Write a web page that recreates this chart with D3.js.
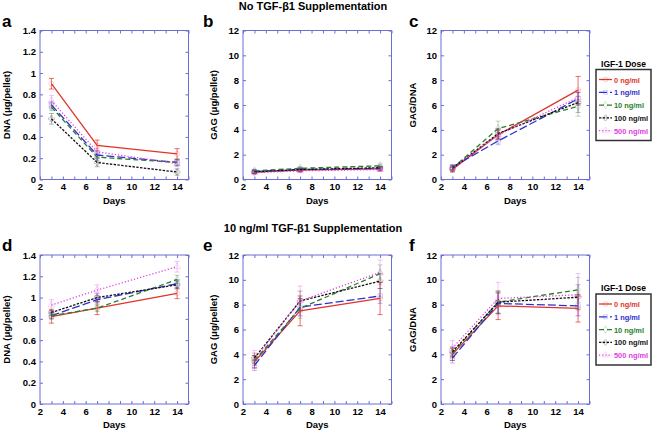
<!DOCTYPE html>
<html>
<head>
<meta charset="utf-8">
<script src="https://cdn.jsdelivr.net/npm/d3@7"></script>
<style>
  body { margin: 0; background: #fff; }
  svg { display: block; font-family: "Liberation Sans", Arial, sans-serif; }
</style>
</head>
<body>
<svg id="chart" width="654" height="431"></svg>
<script>
// ---------- data ----------
const days = [3, 7, 14];
const doses = ["0 ng/ml", "1 ng/ml", "10 ng/ml", "100 ng/ml", "500 ng/ml"];
const colors = ["#e0342b", "#2f2fd0", "#2a7f2a", "#111111", "#e23ce0"];
const dashes = [null, "8,3", "5,3", "2.4,1.4", "1.2,2"];
const xTickLabels = [2, 4, 6, 8, 10, 12, 14];
const dnaTicks = [0, 0.2, 0.4, 0.6, 0.8, 1, 1.2, 1.4];
const gagTicks = [0, 2, 4, 6, 8, 10, 12];

// Panel a: DNA, no TGF-b1 (rows = doses, cols = days)
const dnaNoTGF = [[0.90, 0.32, 0.24], [0.70, 0.23, 0.16], [0.68, 0.21, 0.16], [0.57, 0.16, 0.07], [0.74, 0.26, 0.15]];
const dnaNoTGFErr = [[0.05, 0.05, 0.05], [0.03, 0.03, 0.03], [0.03, 0.03, 0.03], [0.05, 0.04, 0.03], [0.05, 0.03, 0.03]];
// Panel b: GAG, no TGF-b1
const gagNoTGF = [[0.60, 0.75, 0.85], [0.65, 0.80, 0.90], [0.70, 0.90, 1.10], [0.60, 0.80, 0.95], [0.55, 0.70, 0.80]];
const gagNoTGFErr = [[0.1, 0.1, 0.15], [0.1, 0.1, 0.1], [0.1, 0.1, 0.15], [0.1, 0.1, 0.1], [0.1, 0.1, 0.15]];
// Panel c: GAG/DNA, no TGF-b1
const ratioNoTGF = [[0.8, 3.6, 7.2], [1.0, 3.1, 6.5], [0.9, 4.1, 5.9], [0.9, 3.7, 6.2], [0.9, 3.6, 6.6]];
const ratioNoTGFErr = [[0.2, 0.4, 1.1], [0.2, 0.3, 0.5], [0.2, 0.6, 0.8], [0.2, 0.4, 0.8], [0.2, 0.4, 0.6]];
// Panel d: DNA, 10 ng/ml TGF-b1
const dnaTGF = [[0.82, 0.90, 1.04], [0.83, 0.98, 1.13], [0.83, 0.90, 1.17], [0.86, 1.00, 1.12], [0.93, 1.07, 1.29]];
const dnaTGFErr = [[0.06, 0.06, 0.05], [0.03, 0.04, 0.04], [0.03, 0.03, 0.04], [0.03, 0.04, 0.04], [0.05, 0.05, 0.05]];
// Panel e: GAG, 10 ng/ml TGF-b1
const gagTGF = [[3.4, 7.5, 8.5], [3.1, 7.8, 8.7], [3.5, 7.7, 10.5], [3.7, 8.3, 9.9], [3.6, 8.3, 10.6]];
const gagTGFErr = [[0.5, 1.2, 1.3], [0.4, 0.7, 0.6], [0.4, 0.8, 0.7], [0.4, 0.8, 0.6], [0.7, 1.2, 1.0]];
// Panel f: GAG/DNA, 10 ng/ml TGF-b1
const ratioTGF = [[4.0, 7.9, 7.7], [3.7, 8.1, 7.9], [4.1, 8.2, 9.2], [4.2, 8.2, 8.6], [4.5, 8.5, 8.8]];
const ratioTGFErr = [[0.5, 1.1, 1.1], [0.4, 0.8, 0.8], [0.4, 0.9, 1.0], [0.4, 0.9, 1.0], [0.6, 1.3, 1.7]];

const panels = [
  { letter: "a", ylab: "DNA (\u03bcg/pellet)", vals: dnaNoTGF, errs: dnaNoTGFErr, ticks: dnaTicks, col: 0, row: 0 },
  { letter: "b", ylab: "GAG (\u03bcg/pellet)", vals: gagNoTGF, errs: gagNoTGFErr, ticks: gagTicks, col: 1, row: 0 },
  { letter: "c", ylab: "GAG/DNA", vals: ratioNoTGF, errs: ratioNoTGFErr, ticks: gagTicks, col: 2, row: 0, legend: true },
  { letter: "d", ylab: "DNA (\u03bcg/pellet)", vals: dnaTGF, errs: dnaTGFErr, ticks: dnaTicks, col: 0, row: 1 },
  { letter: "e", ylab: "GAG (\u03bcg/pellet)", vals: gagTGF, errs: gagTGFErr, ticks: gagTicks, col: 1, row: 1 },
  { letter: "f", ylab: "GAG/DNA", vals: ratioTGF, errs: ratioTGFErr, ticks: gagTicks, col: 2, row: 1, legend: true }
];

// ---------- layout ----------
const svg = d3.select("#chart");
const colLeft = [40, 243, 441];
const rowTop = [30.5, 255];
const pw = 148.5, ph = 149;
const frameColor = "#6d6dd6";
const fontTick = 9.5;

svg.append("text").attr("x", 313).attr("y", 10).attr("text-anchor", "middle")
  .attr("font-size", 11).attr("font-weight", "bold").text("No TGF-\u03b21 Supplementation");
svg.append("text").attr("x", 313).attr("y", 232).attr("text-anchor", "middle")
  .attr("font-size", 11).attr("font-weight", "bold").text("10 ng/ml TGF-\u03b21 Supplementation");

const symbols = [d3.symbolCircle, d3.symbolSquare, d3.symbolDiamond, d3.symbolCross, d3.symbolTriangle];

panels.forEach(p => {
  const left = colLeft[p.col], top = rowTop[p.row];
  const g = svg.append("g").attr("transform", `translate(${left},${top})`);
  const x = d3.scaleLinear().domain([2, 15]).range([0, pw]);
  const ymax = p.ticks[p.ticks.length - 1];
  const y = d3.scaleLinear().domain([0, ymax]).range([ph, 0]);

  // axes
  const minorX = d3.range(2, 16, 1);
  const fmt = v => String(+v.toFixed(1));
  const ax = (axis) => axis.tickSizeOuter(0).tickPadding(3);
  const gb = g.append("g").attr("transform", `translate(0,${ph})`)
    .call(ax(d3.axisBottom(x).tickValues(xTickLabels).tickSizeInner(-3).tickFormat(d3.format("d"))));
  g.append("g").attr("transform", `translate(0,${ph})`)
    .call(d3.axisBottom(x).tickValues(minorX.filter(v => v % 2 === 1)).tickSizeInner(-3).tickSizeOuter(0).tickFormat(""));
  g.append("g").call(d3.axisTop(x).tickValues(minorX).tickSizeInner(-3).tickSizeOuter(0).tickFormat(""));
  const gl = g.append("g").call(ax(d3.axisLeft(y).tickValues(p.ticks).tickSizeInner(-3).tickFormat(fmt)));
  g.append("g").attr("transform", `translate(${pw},0)`)
    .call(d3.axisRight(y).tickValues(p.ticks).tickSizeInner(-3).tickSizeOuter(0).tickFormat(""));
  g.selectAll(".domain").remove();
  g.selectAll(".tick line").attr("stroke", frameColor).attr("stroke-width", 1);
  g.selectAll(".tick text").attr("font-size", fontTick).attr("font-weight", "bold")
    .attr("fill", "#000").attr("font-family", "Liberation Sans, Arial, sans-serif");
  gb.selectAll(".tick text").attr("dy", "0.8em");
  gl.selectAll(".tick text").attr("dx", "-1");

  g.append("rect").attr("width", pw).attr("height", ph)
    .attr("fill", "none").attr("stroke", frameColor).attr("stroke-width", 1);

  // error bars and markers (faint)
  p.vals.forEach((series, si) => {
    const c = colors[si];
    series.forEach((v, di) => {
      const e = p.errs[si][di];
      const cx = x(days[di]);
      const eg = g.append("g").attr("stroke", c).attr("stroke-opacity", si === 0 ? 0.7 : 0.3).attr("stroke-width", 1);
      eg.append("line").attr("x1", cx).attr("x2", cx).attr("y1", y(v - e)).attr("y2", y(v + e));
      eg.append("line").attr("x1", cx - 2.5).attr("x2", cx + 2.5).attr("y1", y(v - e)).attr("y2", y(v - e));
      eg.append("line").attr("x1", cx - 2.5).attr("x2", cx + 2.5).attr("y1", y(v + e)).attr("y2", y(v + e));
      g.append("path").attr("d", d3.symbol().type(symbols[si]).size(20)())
        .attr("transform", `translate(${cx},${y(v)})`)
        .attr("fill", "none").attr("stroke", c).attr("stroke-opacity", 0.25).attr("stroke-width", 0.8);
    });
  });

  // lines
  const line = d3.line().x((d, i) => x(days[i])).y(d => y(d));
  p.vals.forEach((series, si) => {
    g.append("path").datum(series).attr("d", line)
      .attr("fill", "none").attr("stroke", colors[si]).attr("stroke-width", 1.3)
      .attr("stroke-dasharray", dashes[si]);
  });

  // labels
  g.append("text").attr("x", pw / 2).attr("y", ph + 24).attr("text-anchor", "middle")
    .attr("font-size", 9.5).attr("font-weight", "bold").text("Days");
  const ylx = p.col === 0 ? -30 : (p.col === 1 ? -26 : -25);
  g.append("text").attr("transform", `translate(${ylx},${ph / 2}) rotate(-90)`)
    .attr("text-anchor", "middle").attr("font-size", 9.5).attr("font-weight", "bold").text(p.ylab);
  const letterX = [2, 203, 409][p.col];
  svg.append("text").attr("x", letterX).attr("y", top - 4).attr("font-size", 17)
    .attr("font-weight", "bold").text(p.letter);

  // legend
  if (p.legend) {
    const lx = 596 - left, ly = 39;
    g.append("text").attr("x", (596 + 651) / 2 - left).attr("y", ly - 3).attr("text-anchor", "middle")
      .attr("font-size", 8.5).attr("font-weight", "bold").text("IGF-1 Dose");
    g.append("rect").attr("x", lx).attr("y", ly).attr("width", 55).attr("height", 71)
      .attr("fill", "#fff").attr("stroke", "#333").attr("stroke-width", 1.5);
    doses.forEach((d, si) => {
      const yy = ly + 10 + si * 12.8;
      g.append("line").attr("x1", lx + 3).attr("x2", lx + 16).attr("y1", yy).attr("y2", yy)
        .attr("stroke", colors[si]).attr("stroke-width", 1.3).attr("stroke-dasharray", dashes[si]);
      g.append("path").attr("d", d3.symbol().type(symbols[si]).size(16)())
        .attr("transform", `translate(${lx + 9.5},${yy})`)
        .attr("fill", "none").attr("stroke", colors[si]).attr("stroke-opacity", 0.25).attr("stroke-width", 0.8);
      g.append("text").attr("x", lx + 18).attr("y", yy + 3).attr("font-size", 7.4)
        .attr("font-weight", "bold").attr("fill", colors[si]).text(d);
    });
  }
});
</script>
</body>
</html>
